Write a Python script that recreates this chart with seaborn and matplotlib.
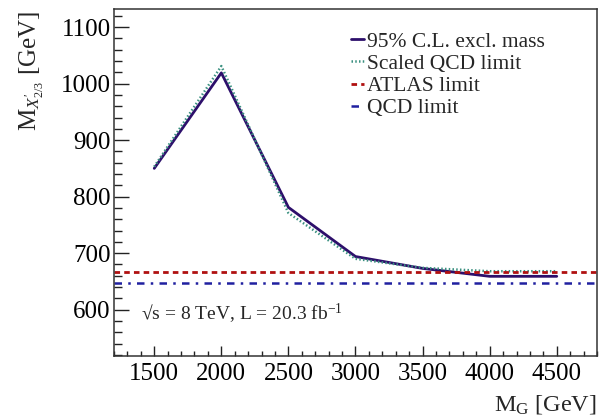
import matplotlib
matplotlib.use("Agg")
import matplotlib.pyplot as plt
import seaborn as sns
import pandas as pd
from matplotlib.ticker import MultipleLocator

# ---- data ----
mass_g = [1500, 2000, 2500, 3000, 3500, 4000, 4500]
excl_mass = [850, 1019, 781, 694, 673, 659, 659]
scaled_qcd = [853, 1031, 771, 690, 674, 668, 668]
atlas_limit = 666
qcd_limit = 647
labels = ["95% C.L. excl. mass", "Scaled QCD limit", "ATLAS limit", "QCD limit"]
x_ticks = [1500, 2000, 2500, 3000, 3500, 4000, 4500]
y_ticks = [600, 700, 800, 900, 1000, 1100]

sns.set_theme(style="ticks")
plt.rcParams["font.family"] = ["Liberation Serif", "DejaVu Serif"]
plt.rcParams["mathtext.fontset"] = "custom"
plt.rcParams["mathtext.rm"] = "Liberation Serif"
plt.rcParams["mathtext.it"] = "Liberation Serif:italic"

c_excl = "#2d0f6b"
c_scaled = "#3a9080"
c_atlas = "#b01010"
c_qcd = "#2020a0"

fig = plt.figure(figsize=(6.01, 4.19), dpi=100)
ax = fig.add_axes([114 / 601, 1 - 356 / 419, (597 - 114) / 601, (356 - 9) / 419])

df = pd.DataFrame({"mg": mass_g, "excl": excl_mass, "scaled": scaled_qcd})
sns.lineplot(data=df, x="mg", y="excl", ax=ax, color=c_excl, lw=2.0, label=labels[0])
sns.lineplot(data=df, x="mg", y="scaled", ax=ax, color=c_scaled, lw=1.8,
             linestyle=(0, (0.6, 0.9)), label=labels[1])
ax.axhline(atlas_limit, color=c_atlas, lw=2.0, linestyle=(0, (2, 1.5)), label=labels[2])
ax.axhline(qcd_limit, color=c_qcd, lw=1.8, linestyle=(0, (3, 2.5, 1, 2.5)), label=labels[3])

ax.set_xlim(1200, 4800)
ax.set_ylim(518, 1132)
ax.set_xticks(x_ticks)
ax.set_yticks(y_ticks)
ax.xaxis.set_minor_locator(MultipleLocator(100))
ax.yaxis.set_minor_locator(MultipleLocator(20))
ax.tick_params(axis="both", which="both", direction="in", colors="#222222",
               labelcolor="black", labelsize=18, top=False, right=False)
ax.tick_params(axis="y", which="major", length=11, width=1.0, pad=2.5)
ax.tick_params(axis="y", which="minor", length=5.8, width=1.0)
ax.tick_params(axis="x", which="major", length=7, width=1.0, pad=5)
ax.tick_params(axis="x", which="minor", length=3.6, width=1.0)
for s in ax.spines.values():
    s.set_visible(True)
    s.set_color("#333333")
    s.set_linewidth(1.1)

ax.set_xlabel("M$_{\\mathrm{G}}$ [GeV]", fontsize=17.5, ha="right", va="top")
ax.xaxis.set_label_coords(1.0, -0.108)
ax.set_ylabel("M$_{X^{\\prime}_{\\mathrm{2/3}}}$ [GeV]", fontsize=18, ha="right", va="center")
ax.yaxis.set_label_coords(-0.17, 0.995)

ax.text(0.055, 0.12, "√s = 8 TeV, L = 20.3 fb$^{\\mathrm{-1}}$", transform=ax.transAxes,
        fontsize=14, ha="left", va="center")

leg = ax.legend(loc="upper left", bbox_to_anchor=(0.49, 0.935), frameon=False,
                fontsize=15.5, handlelength=0.6, handletextpad=0.15,
                labelspacing=0.1, borderaxespad=0, borderpad=0)

fig.savefig("out.png", dpi=100)
